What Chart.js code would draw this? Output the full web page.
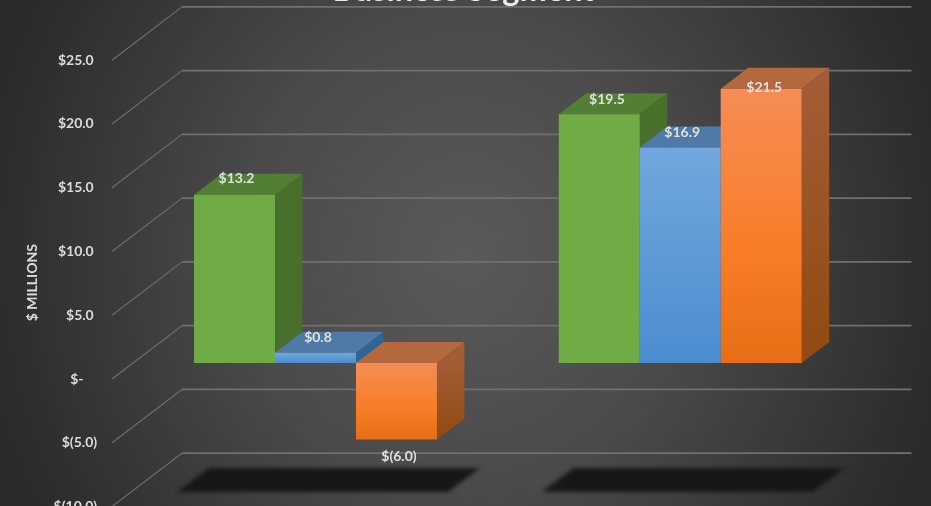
<!DOCTYPE html>
<html>
<head>
<meta charset="utf-8">
<style>
html,body{margin:0;padding:0;width:931px;height:506px;overflow:hidden;background:#2a2a2a}
#wrap{position:relative;width:931px;height:506px;background:radial-gradient(490px 530px at 50% 50%,#5a5a5a 0,#4a4a4a 45%,#2a2a2a 100%)}
</style>
<script src="https://cdn.jsdelivr.net/npm/chart.js@4"></script>
</head>
<body>
<div id="wrap"><canvas id="c" width="931" height="506"></canvas></div>
<script>
const categories = ["Segment A", "Segment B"];
const seriesNames = ["Series 1", "Series 2", "Series 3"];
const greenValues = [13.2, 19.5];
const blueValues = [0.8, 16.9];
const orangeValues = [-6.0, 21.5];
const greenLabels = ["$13.2", "$19.5"];
const blueLabels = ["$0.8", "$16.9"];
const orangeLabels = ["$(6.0)", "$21.5"];
const tickValues = [-10, -5, 0, 5, 10, 15, 20, 25];
const tickLabels = ["$(10.0)", "$(5.0)", "$-    ", "$5.0 ", "$10.0 ", "$15.0 ", "$20.0 ", "$25.0 "];
const titleText = "Business Segment";
const axisTitle = "$ MILLIONS";

// 3D look
const DEPTH_X = 27.5, DEPTH_Y = 21;        // bar depth
const WALL_DY = 37.3, WALL_LEFT = 182, WALL_RIGHT = 911.5; // back wall grid
const FRONT_LEFT = 112, FRONT_DY = 16;     // front edge of the floor
const faces = [
  {top:"#527f33", side:["#486f2b","#486f2b"]},
  {top:"#4f79a6", side:["#2f6496","#2f6496"]},
  {top:"#b5683e", side:["#a35c35","#914a10"]}
];
// hand placed data labels in the reference: [dx, dy] per dataset / category
const labelNudge = [
  [[2,-16.3],[7.7,-15.3]],
  [[2.5,-15.3],[2,-14.6]],
  [[2.5,17],[3,-1.4]]
];

function barGradient(stops){
  return function(ctx){
    const s = ctx.chart.scales.y;
    if (ctx.raw === undefined || !s || !ctx.chart.chartArea) return stops[0][1];
    const a = s.getPixelForValue(Math.max(ctx.raw,0));
    const b = s.getPixelForValue(Math.min(ctx.raw,0));
    const g = ctx.chart.ctx.createLinearGradient(0,a,0,b);
    stops.forEach(p=>g.addColorStop(p[0],p[1]));
    return g;
  };
}

const scene3d = {
  id:"scene3d",
  afterLayout(chart){
    // let the axis box reach the canvas edge so its labels are not clipped
    chart.scales.y.left = 0;
  },
  beforeDatasetsDraw(chart){
    const ctx = chart.ctx, y = chart.scales.y;
    ctx.save();
    // grid: back wall + diagonal floor/side lines
    tickValues.forEach(v=>{
      const p = y.getPixelForValue(v);
      ctx.strokeStyle = "#6e6e6e";
      ctx.lineWidth = 1.1;
      ctx.beginPath();
      ctx.moveTo(FRONT_LEFT, p+FRONT_DY);
      ctx.lineTo(WALL_LEFT, p-WALL_DY);
      ctx.stroke();
      ctx.lineWidth = 1.7;
      ctx.strokeStyle = "#707070";
      ctx.beginPath();
      ctx.moveTo(WALL_LEFT, p-WALL_DY);
      ctx.lineTo(WALL_RIGHT, p-WALL_DY);
      ctx.stroke();
    });
    // floor shadows
    const metas = [0,1,2].map(i=>chart.getDatasetMeta(i));
    const floor = y.getPixelForValue(-10)+1.5;
    ctx.filter = "blur(2px)";
    ctx.fillStyle = "#171717";
    categories.forEach((c,i)=>{
      const g = metas[0].data[i], o = metas[2].data[i];
      const l = g.x-g.width/2, r = o.x+o.width/2;
      ctx.beginPath();
      ctx.moveTo(l-17, floor);
      ctx.lineTo(l+15, floor-24);
      ctx.lineTo(r+43, floor-24);
      ctx.lineTo(r+11, floor);
      ctx.closePath();
      ctx.fill();
    });
    ctx.filter = "none";
    // bars, painter's order, left to right
    metas.forEach((m,di)=>{
      m.data.forEach(el=>{
        const l = el.x-el.width/2, r = el.x+el.width/2;
        const t = Math.min(el.y,el.base), b = Math.max(el.y,el.base);
        // side
        const sg = ctx.createLinearGradient(0,t,0,b);
        sg.addColorStop(0,faces[di].side[0]);
        sg.addColorStop(1,faces[di].side[1]);
        ctx.fillStyle = sg;
        ctx.beginPath();
        ctx.moveTo(r,t);
        ctx.lineTo(r+DEPTH_X,t-DEPTH_Y);
        ctx.lineTo(r+DEPTH_X,b-DEPTH_Y);
        ctx.lineTo(r,b);
        ctx.closePath();
        ctx.fill();
        // top
        ctx.fillStyle = faces[di].top;
        ctx.beginPath();
        ctx.moveTo(l,t);
        ctx.lineTo(l+DEPTH_X,t-DEPTH_Y);
        ctx.lineTo(r+DEPTH_X,t-DEPTH_Y);
        ctx.lineTo(r,t);
        ctx.closePath();
        ctx.fill();
        // front, the library's own bar element
        el.draw(ctx);
      });
    });
    ctx.restore();
    return false;
  },
  afterDraw(chart){
    const ctx = chart.ctx;
    const texts = [greenLabels, blueLabels, orangeLabels];
    ctx.save();
    ctx.font = "bold 14px Lato";
    ctx.fillStyle = "#e0e0e0";
    ctx.textAlign = "center";
    ctx.textBaseline = "middle";
    [0,1,2].forEach(di=>{
      chart.getDatasetMeta(di).data.forEach((el,i)=>{
        const n = labelNudge[di][i];
        ctx.fillText(texts[di][i], el.x+n[0], el.y+n[1]);
      });
    });
    ctx.restore();
  }
};

new Chart(document.getElementById("c"),{
  type:"bar",
  data:{
    labels:categories,
    datasets:[
      {label:seriesNames[0],data:greenValues,backgroundColor:"#6fac46"},
      {label:seriesNames[1],data:blueValues,backgroundColor:barGradient([[0,"#72a7de"],[1,"#4a8dcf"]])},
      {label:seriesNames[2],data:orangeValues,backgroundColor:barGradient([[0,"#f58d55"],[0.6,"#f97c27"],[1,"#e76e15"]])}
    ]
  },
  options:{
    responsive:false,
    animation:false,
    devicePixelRatio:1,
    categoryPercentage:0.666,
    barPercentage:1,
    layout:{padding:{left:64.4,right:68.4,top:0,bottom:15.5}},
    plugins:{
      legend:{display:false},
      tooltip:{enabled:false},
      title:{
        display:true,
        text:titleText,
        color:"#ececec",
        font:{family:"Lato",size:32.6,weight:"bold"},
        padding:{top:-29,bottom:34.1}
      }
    },
    scales:{
      x:{display:false,offset:true,grid:{display:false}},
      y:{
        min:-10,max:25,
        grid:{display:false,drawTicks:false},
        border:{display:false},
        afterFit(s){s.width=68.7;s.paddingTop=0;s.paddingBottom=0;},
        title:{
          display:true,
          text:axisTitle+"         ",
          color:"#dcdcdc",
          font:{family:"Lato",size:14,weight:"bold"},
          padding:{top:23.6,bottom:0}
        },
        ticks:{
          stepSize:5,
          autoSkip:false,
          padding:36,
          labelOffset:FRONT_DY,
          color:"#dcdcdc",
          font:{family:"Lato",size:14,weight:"bold"},
          callback(v){return tickLabels[tickValues.indexOf(v)];}
        }
      }
    }
  },
  plugins:[scene3d]
});
</script>
</body>
</html>
